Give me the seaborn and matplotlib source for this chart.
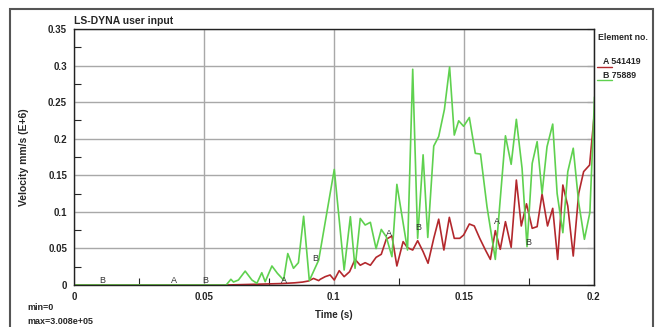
import numpy as np
import pandas as pd
import matplotlib
matplotlib.use("Agg")
import matplotlib.pyplot as plt
from matplotlib.lines import Line2D
from matplotlib.patches import Rectangle
from matplotlib.ticker import MultipleLocator
import seaborn as sns

# element A 541419 (red)
t_a = [0.0, 0.0586, 0.070, 0.080, 0.085, 0.0880, 0.0903, 0.0922, 0.0942, 0.0948, 0.0967, 0.0986,
       0.1002, 0.1021, 0.1040, 0.1061, 0.1082, 0.1102, 0.1121, 0.1141, 0.1163, 0.1183, 0.1202,
       0.1224, 0.1243, 0.1267, 0.1284, 0.1304, 0.1323, 0.1344, 0.1363, 0.1385, 0.1404, 0.1424,
       0.1445, 0.1464, 0.1485, 0.1500, 0.1522, 0.1541, 0.1562, 0.1584, 0.1603, 0.1622, 0.1641,
       0.1661, 0.1683, 0.1703, 0.1722, 0.1742, 0.1764, 0.1783, 0.1802, 0.1823, 0.1843, 0.1862,
       0.1882, 0.1901, 0.1922, 0.1943, 0.1962, 0.1985, 0.2002]
v_a = [0.0, 0.0, 0.001, 0.002, 0.003, 0.004, 0.0055, 0.009, 0.006, 0.0078, 0.0114, 0.0137,
       0.0068, 0.0196, 0.0114, 0.0182, 0.035, 0.027, 0.0305, 0.027, 0.0378, 0.042, 0.0625,
       0.067, 0.026, 0.0593, 0.051, 0.0478, 0.0606, 0.0456, 0.0297, 0.0638, 0.09, 0.0478,
       0.0925, 0.0638, 0.0638, 0.0683, 0.0834, 0.0807, 0.0638, 0.0478, 0.035, 0.0743, 0.0488,
       0.0866, 0.0515, 0.1435, 0.0807, 0.111, 0.0775, 0.0798, 0.1244, 0.0807, 0.1048, 0.035,
       0.1367, 0.108, 0.0396, 0.1253, 0.155, 0.164, 0.23]

# element B 75889 (green)
t_b = [0.0, 0.0586, 0.0604, 0.0614, 0.0633, 0.0659, 0.0685, 0.0704, 0.0723, 0.0736, 0.0762,
       0.0783, 0.0807, 0.0823, 0.0845, 0.0864, 0.0884, 0.0906, 0.0942, 0.1002, 0.1040, 0.1064,
       0.1082, 0.1102, 0.1121, 0.1141, 0.1163, 0.1183, 0.1202, 0.1224, 0.1243, 0.1267, 0.1284,
       0.1304, 0.1323, 0.1344, 0.1362, 0.1385, 0.1404, 0.1426, 0.1446, 0.1464, 0.1481, 0.1500,
       0.1522, 0.1545, 0.1565, 0.1590, 0.1622, 0.1661, 0.1683, 0.1703, 0.1725, 0.1744, 0.1764,
       0.1783, 0.1802, 0.1821, 0.1843, 0.1860, 0.1882, 0.1901, 0.1922, 0.1943, 0.1965, 0.1986,
       0.2004]
v_b = [0.0, 0.0, 0.0078, 0.0041, 0.0068, 0.019, 0.0068, 0.0023, 0.0168, 0.0045, 0.026,
       0.016, 0.0068, 0.043, 0.0228, 0.0305, 0.094, 0.006, 0.034, 0.158, 0.0205, 0.0934,
       0.0228, 0.091, 0.082, 0.0857, 0.0497, 0.076, 0.066, 0.0387, 0.1376, 0.085, 0.0478,
       0.295, 0.0638, 0.178, 0.065, 0.19, 0.203, 0.24, 0.298, 0.205, 0.2245, 0.217,
       0.229, 0.18, 0.179, 0.107, 0.035, 0.204, 0.165, 0.2265, 0.1595, 0.0524, 0.1663,
       0.196, 0.125, 0.189, 0.22, 0.125, 0.0715, 0.155, 0.187, 0.1125, 0.0625, 0.099,
       0.257]

# curve identifier letters
lab_t = [0.0108, 0.0385, 0.0505, 0.0807, 0.0929, 0.1211, 0.1327, 0.1629, 0.1748]
lab_v = [0.0, 0.0, 0.0, 0.0, 0.030, 0.064, 0.073, 0.080, 0.0515]
lab_txt = ["B", "A", "B", "A", "B", "A", "B", "A", "B"]

x_ticks = [0, 0.05, 0.1, 0.15, 0.2]
x_labels = ["0", "0.05", "0.1", "0.15", "0.2"]
y_ticks = [0, 0.05, 0.1, 0.15, 0.2, 0.25, 0.3, 0.35]
y_labels = ["0", "0.05", "0.1", "0.15", "0.2", "0.25", "0.3", "0.35"]

legend_ids = ["A", "B"]
legend_names = ["541419", "75889"]
red = "#b3282d"
green = "#5fd14f"

df = pd.concat([
    pd.DataFrame({"t": t_a, "v": v_a, "element": "A"}),
    pd.DataFrame({"t": t_b, "v": v_b, "element": "B"}),
])

sns.set_style("white")
plt.rcParams["font.family"] = ["Liberation Sans Narrow", "Liberation Sans", "DejaVu Sans"]

fig = plt.figure(figsize=(6.57, 3.27), dpi=100)
ax = fig.add_axes([74 / 657, 1 - 285 / 327, (593.5 - 74) / 657, (285 - 29) / 327])

sns.lineplot(data=df, x="t", y="v", hue="element", palette={"A": red, "B": green},
             ax=ax, legend=False, linewidth=1.2, sort=False, estimator=None)

for tt, vv, s in zip(lab_t, lab_v, lab_txt):
    ax.text(tt, vv, s, fontsize=6.5, color="#333333", ha="center", va="bottom")

ax.set_xlim(0, 0.2)
ax.set_ylim(0, 0.35)
ax.set_xticks(x_ticks)
ax.set_xticklabels(x_labels)
ax.set_yticks(y_ticks)
ax.set_yticklabels(y_labels)
ax.xaxis.set_minor_locator(MultipleLocator(0.025))
ax.yaxis.set_minor_locator(MultipleLocator(0.025))
ax.grid(True, which="major", color="#a8a8a8", linewidth=1.0)
ax.tick_params(which="major", direction="out", length=4, width=0.8, labelsize=7, pad=1)
ax.tick_params(which="minor", direction="in", length=5, width=0.8, left=True, bottom=True)
for lab in ax.get_xticklabels() + ax.get_yticklabels():
    lab.set_fontweight("bold")
for sp in ax.spines.values():
    sp.set_color("#222222")
    sp.set_linewidth(1.0)

# inward major ticks on the right frame edge
sec = ax.secondary_yaxis("right")
sec.set_yticks(y_ticks)
sec.tick_params(direction="in", length=5, width=0.8, labelright=False)
sec.spines["right"].set_color("#222222")

ax.set_xlabel("Time (s)", fontsize=7, fontweight="bold", labelpad=6)
ax.set_ylabel("Velocity mm/s (E+6)", fontsize=7.5, fontweight="bold", labelpad=14)
ax.text(0.0, 1.01, "LS-DYNA user input", transform=ax.transAxes, fontsize=7.5,
        fontweight="bold", ha="left", va="bottom")

fig.text(598 / 657, 1 - 38 / 327, "Element no.", fontsize=6.3, fontweight="bold", va="center")
for i, (lid, name) in enumerate(zip(legend_ids, legend_names)):
    y = 1 - (62 + 13 * i) / 327
    col = red if lid == "A" else green
    fig.text(603 / 657, y, lid + " " + name, fontsize=6.3, fontweight="bold", va="center")
    fig.add_artist(Line2D([597 / 657, 612 / 657], [y - 5 / 327, y - 5 / 327], color=col,
                          linewidth=1.0, transform=fig.transFigure))

fig.text(27 / 657, 1 - 307 / 327, "min=0", fontsize=6.5, fontweight="bold", va="center")
fig.text(27 / 657, 1 - 321 / 327, "max=3.008e+05", fontsize=6.5, fontweight="bold", va="center")

fig.add_artist(Rectangle((10 / 657, -0.05), 643 / 657, 1.05 - 9 / 327, fill=False,
                         edgecolor="#555555", linewidth=1.5, transform=fig.transFigure))

fig.savefig("out.png", dpi=100)
